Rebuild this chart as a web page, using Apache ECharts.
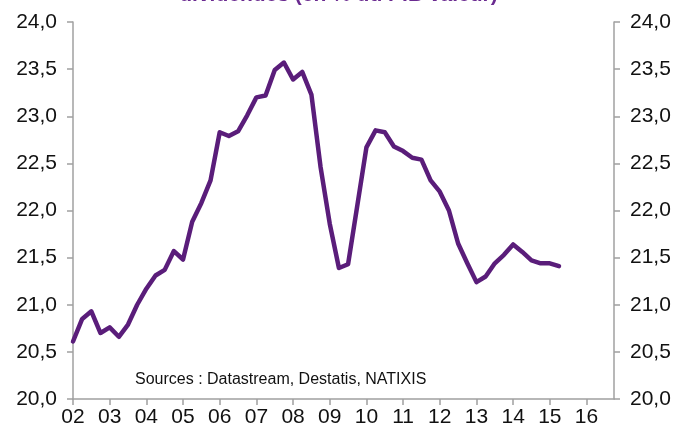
<!DOCTYPE html>
<html>
<head>
<meta charset="utf-8">
<script src="https://cdn.jsdelivr.net/npm/echarts@6/dist/echarts.min.js"></script>
<style>
  html, body { margin: 0; padding: 0; background: #fff; }
  #chart { width: 677px; height: 432px; }
</style>
</head>
<body>
<div id="chart"></div>
<script>
// Quarterly series, 2002 T1 to 2015 T2 (% of nominal GDP)
const years = ['02', '03', '04', '05', '06', '07', '08', '09', '10', '11', '12', '13', '14', '15', '16'];
const values = [
  20.61, 20.85, 20.93, 20.70,
  20.76, 20.66, 20.79, 21.00,
  21.17, 21.31, 21.37, 21.57,
  21.48, 21.88, 22.08, 22.32,
  22.83, 22.79, 22.84, 23.01,
  23.20, 23.22, 23.49, 23.57,
  23.39, 23.47, 23.23, 22.46,
  21.86, 21.39, 21.43, 22.05,
  22.67, 22.85, 22.83, 22.68,
  22.63, 22.56, 22.54, 22.32,
  22.20, 22.00, 21.65, 21.44,
  21.24, 21.30, 21.44, 21.53,
  21.64, 21.56, 21.47, 21.44,
  21.44, 21.41
];
const yTicks = { min: 20, max: 24, step: 0.5 };
const titleText = 'dividendes (en % du PIB valeur)';
const sourceText = 'Sources : Datastream, Destatis, NATIXIS';

// one category per quarter; the axis runs to the end of 2016
const categories = [];
years.forEach(y => { for (let q = 1; q <= 4; q++) categories.push('20' + y + 'T' + q); });
const seriesData = categories.map((c, i) => (i < values.length ? values[i] : null));

const fontFamily = 'Liberation Sans, Arial, sans-serif';
const axisGray = '#a0a0a0';
const fmt = v => v.toFixed(1).replace('.', ',');

const yAxisBase = {
  type: 'value',
  min: yTicks.min,
  max: yTicks.max,
  interval: yTicks.step,
  splitLine: { show: false },
  axisLine: { show: true, lineStyle: { color: axisGray, width: 1.5 } },
  axisTick: { show: true, inside: false, length: 6, lineStyle: { color: axisGray, width: 1.5 } },
  axisLabel: { color: '#111', fontSize: 21, fontFamily: fontFamily, margin: 16, formatter: fmt }
};

const chart = echarts.init(document.getElementById('chart'), null, { renderer: 'canvas' });
chart.setOption({
  animation: false,
  grid: { left: 73, right: 63, top: 22, bottom: 33 },
  xAxis: {
    type: 'category',
    data: categories,
    boundaryGap: false,
    axisLine: { show: true, lineStyle: { color: axisGray, width: 1.5 } },
    axisTick: { show: true, interval: 3, length: 6, lineStyle: { color: axisGray, width: 1.5 } },
    axisLabel: {
      interval: 3,
      color: '#111',
      fontSize: 21,
      fontFamily: fontFamily,
      margin: 8,
      formatter: v => v.slice(2, 4)
    },
    splitLine: { show: false }
  },
  yAxis: [
    Object.assign({}, yAxisBase, { position: 'left' }),
    Object.assign({}, yAxisBase, { position: 'right' })
  ],
  series: [{
    type: 'line',
    yAxisIndex: 0,
    data: seriesData,
    showSymbol: false,
    connectNulls: false,
    lineStyle: { color: '#5a1d7a', width: 4.5, join: 'round', cap: 'round' },
    z: 3
  }],
  graphic: [
    {
      type: 'text',
      left: 'center',
      top: -15,
      style: {
        text: titleText,
        fill: '#6a2a90',
        font: 'bold 21px ' + fontFamily
      }
    },
    {
      type: 'text',
      left: 135,
      top: 372,
      style: {
        text: sourceText,
        fill: '#111',
        font: '16px ' + fontFamily
      }
    }
  ]
});
</script>
</body>
</html>
